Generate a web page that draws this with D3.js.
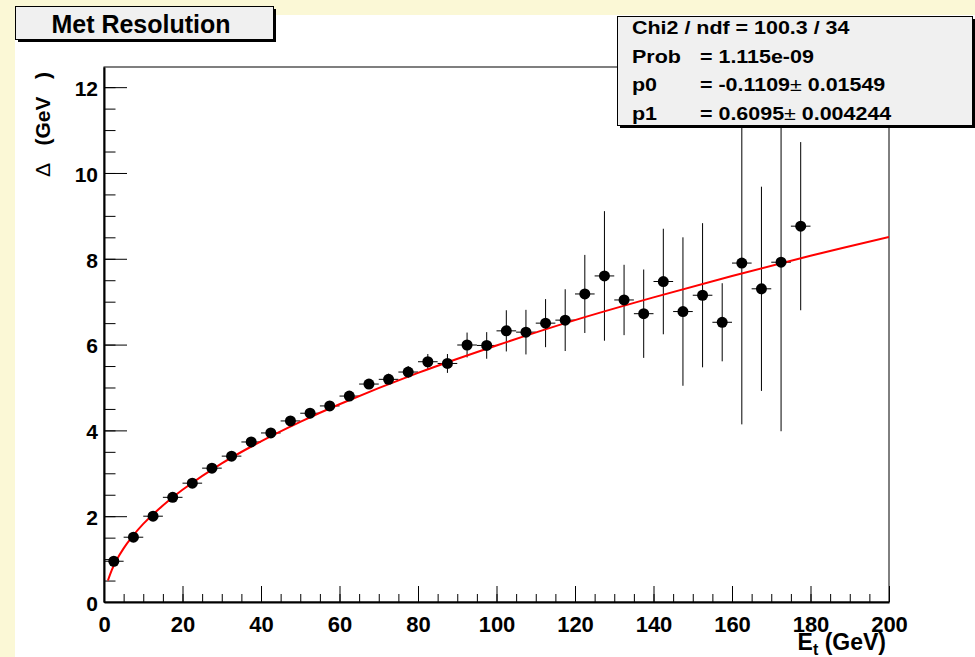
<!DOCTYPE html>
<html>
<head>
<meta charset="utf-8">
<script src="https://cdn.jsdelivr.net/npm/d3@7"></script>
<style>
  body { margin: 0; background: #fbf8d6; }
  svg { display: block; font-family: "Liberation Sans", Arial, sans-serif; font-weight: bold; }
</style>
</head>
<body>
<div id="root"></div>
<script>
// DATA
const binCenters = [2.5, 7.5, 12.5, 17.5, 22.5, 27.5, 32.5, 37.5, 42.5, 47.5, 52.5, 57.5,
  62.5, 67.5, 72.5, 77.5, 82.5, 87.5, 92.5, 97.5, 102.5, 107.5, 112.5, 117.5,
  122.5, 127.5, 132.5, 137.5, 142.5, 147.5, 152.5, 157.5, 162.5, 167.5, 172.5, 177.5];
const binHalfWidth = 2.5;
const resolution = [0.95, 1.51, 2.00, 2.44, 2.77, 3.12, 3.40, 3.73, 3.94, 4.22, 4.40, 4.57,
  4.80, 5.08, 5.19, 5.36, 5.60, 5.56, 5.99, 5.98, 6.32, 6.29, 6.50, 6.57,
  7.18, 7.60, 7.04, 6.72, 7.47, 6.77, 7.15, 6.52, 7.90, 7.30, 7.92, 8.76];
const resolutionErr = [0.03, 0.03, 0.04, 0.04, 0.05, 0.05, 0.06, 0.06, 0.07, 0.08, 0.08, 0.09,
  0.10, 0.11, 0.13, 0.14, 0.18, 0.22, 0.29, 0.31, 0.48, 0.52, 0.56, 0.72,
  0.91, 1.51, 0.82, 1.03, 1.23, 1.73, 1.68, 0.91, 3.76, 2.38, 3.94, 1.96];

// fitted curve
const fitEt = [1, 2, 3, 5, 7, 10, 15, 20, 30, 40, 50, 60, 80, 100, 120, 140, 160, 180, 200];
const fitRes = [0.50, 0.75, 0.945, 1.25, 1.50, 1.82, 2.25, 2.615, 3.23, 3.745, 4.20, 4.61,
  5.34, 5.98, 6.57, 7.10, 7.60, 8.07, 8.51];

const xTicks = [0, 20, 40, 60, 80, 100, 120, 140, 160, 180, 200];
const yTicks = [0, 2, 4, 6, 8, 10, 12];

const statsLabels = ["Chi2 / ndf = 100.3 / 34", "Prob", "p0", "p1"];
const statsValues = ["", "= 1.115e-09", "= -0.1109", "= 0.6095"];
const statsErrors = ["", "", " 0.01549", " 0.004244"];

//DIMENSIONS
const width = 975, height = 657;
const margin = {top: 67, right: 86, bottom: 55, left: 104};
const innerW = width - margin.left - margin.right;
const innerH = height - margin.top - margin.bottom;

const svg = d3.select('#root').append('svg')
  .attr('width', width)
  .attr('height', height);

// pad (white) over the yellow canvas
svg.append('rect')
  .attr('x', 15).attr('y', 15)
  .attr('width', width - 15).attr('height', height - 15)
  .attr('fill', '#ffffff');

const g = svg.append('g')
  .attr('transform', `translate(${margin.left},${margin.top})`);

//SCALES
const x = d3.scaleLinear().domain([0, 200]).range([0, innerW]);
const y = d3.scaleLinear().domain([0, 12.47]).range([innerH, 0]);

g.append('clipPath').attr('id', 'frameClip')
  .append('rect').attr('width', innerW).attr('height', innerH);

// frame
g.append('rect')
  .attr('width', innerW).attr('height', innerH)
  .attr('fill', '#ffffff')
  .attr('stroke', '#000').attr('stroke-width', 1);

//AXES - minor ticks
g.append('g')
  .attr('transform', `translate(0,${innerH})`)
  .call(d3.axisBottom(x).tickValues(d3.range(0, 201, 5)).tickSize(-8).tickFormat(''))
  .call(a => a.select('.domain').remove());
g.append('g')
  .call(d3.axisLeft(y).tickValues(d3.range(0, 12.4, 0.5)).tickSize(-11.5).tickFormat(''))
  .call(a => a.select('.domain').remove());

//AXES - major ticks
const xAxis = g.append('g')
  .attr('transform', `translate(0,${innerH})`)
  .call(d3.axisBottom(x).tickValues(xTicks).tickSize(-16).tickSizeOuter(0).tickPadding(14));
const yAxis = g.append('g')
  .call(d3.axisLeft(y).tickValues(yTicks).tickSize(-23).tickSizeOuter(0).tickPadding(6));

[xAxis, yAxis].forEach(a => {
  a.select('.domain').attr('stroke-width', 2);
  a.selectAll('text').attr('fill', '#000').attr('font-family', null);
});
xAxis.selectAll('text').attr('font-size', 22);
yAxis.selectAll('text').attr('font-size', 21).attr('dy', '0.4em');
svg.selectAll('.tick line').attr('stroke', '#000');

//DATA POINTS
const pts = g.append('g').attr('clip-path', 'url(#frameClip)');
const rows = binCenters.map((c, i) => ({et: c, v: resolution[i], e: resolutionErr[i]}));

pts.selectAll('.ebar').data(rows).join('line')
  .attr('x1', d => x(d.et)).attr('x2', d => x(d.et))
  .attr('y1', d => y(d.v - d.e)).attr('y2', d => y(d.v + d.e))
  .attr('stroke', '#000').attr('stroke-width', 1);
pts.selectAll('.hbar').data(rows).join('line')
  .attr('x1', d => x(d.et - binHalfWidth)).attr('x2', d => x(d.et + binHalfWidth))
  .attr('y1', d => y(d.v)).attr('y2', d => y(d.v))
  .attr('stroke', '#000').attr('stroke-width', 1);

//FIT LINE
const line = d3.line()
  .x((d, i) => x(fitEt[i]))
  .y(d => y(d))
  .curve(d3.curveCatmullRom);
pts.append('path')
  .datum(fitRes)
  .attr('fill', 'none')
  .attr('stroke', '#ff0000')
  .attr('stroke-width', 2)
  .attr('d', line);

pts.selectAll('circle').data(rows).join('circle')
  .attr('cx', d => x(d.et)).attr('cy', d => y(d.v))
  .attr('r', 5.5)
  .attr('fill', '#000');

//AXIS TITLES
const yt = svg.append('text')
  .attr('transform', 'translate(50,177) rotate(-90)')
  .attr('font-size', 21)
  .style('white-space', 'pre');
yt.append('tspan').attr('font-weight', 'normal').text('\u0394');
yt.append('tspan').text('   (GeV   )');

const xt = svg.append('text')
  .attr('x', 886).attr('y', 650)
  .attr('text-anchor', 'end')
  .attr('font-size', 23);
xt.append('tspan').text('E');
xt.append('tspan').attr('font-size', 16).attr('dy', 5).text('t');
xt.append('tspan').attr('dy', -5).text(' (GeV)');

//TITLE BOX
svg.append('rect').attr('x', 18).attr('y', 9).attr('width', 258).attr('height', 33).attr('fill', '#000');
svg.append('rect').attr('x', 15.5).attr('y', 6.5).attr('width', 258).attr('height', 33)
  .attr('fill', '#f0f0f0').attr('stroke', '#000').attr('stroke-width', 1);
svg.append('text')
  .attr('x', 141).attr('y', 33)
  .attr('text-anchor', 'middle')
  .attr('font-size', 25)
  .text('Met Resolution');

//STATS BOX
svg.append('rect').attr('x', 620).attr('y', 19).attr('width', 355).attr('height', 109).attr('fill', '#000');
svg.append('rect').attr('x', 617.5).attr('y', 16.5).attr('width', 355).attr('height', 109)
  .attr('fill', '#f0f0f0').attr('stroke', '#000').attr('stroke-width', 1);
statsLabels.forEach((lab, i) => {
  const by = 34 + i * 28.7;
  svg.append('text')
    .attr('transform', `translate(632,${by}) scale(1.16,1)`)
    .attr('font-size', 18.5).text(lab);
  if (statsValues[i]) {
    const t = svg.append('text')
      .attr('transform', `translate(700,${by}) scale(1.16,1)`)
      .attr('font-size', 18.5);
    t.append('tspan').text(statsValues[i]);
    if (statsErrors[i]) {
      t.append('tspan').attr('font-weight', 'normal').text('\u00b1');
      t.append('tspan').text(statsErrors[i]);
    }
  }
});
</script>
</body>
</html>
